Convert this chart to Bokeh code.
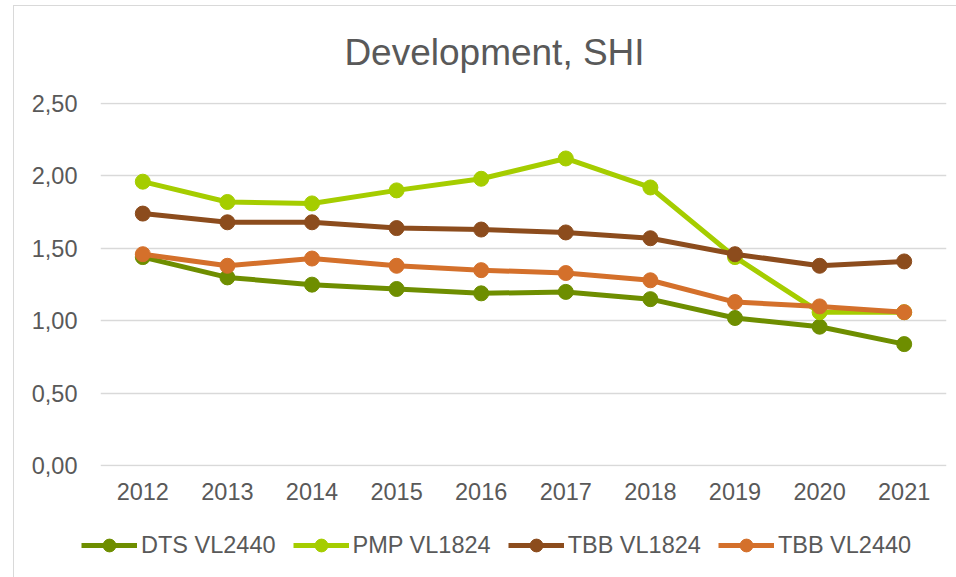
from bokeh.plotting import figure
from bokeh.layouts import column
from bokeh.models import (FactorRange, Range1d, FixedTicker, CustomJSTickFormatter,
                          Legend, LegendItem, Label)
from bokeh.embed import file_html
from bokeh.resources import INLINE

years = ["2012", "2013", "2014", "2015", "2016", "2017", "2018", "2019", "2020", "2021"]
dts_vl2440 = [1.44, 1.30, 1.25, 1.22, 1.19, 1.20, 1.15, 1.02, 0.96, 0.84]
pmp_vl1824 = [1.96, 1.82, 1.81, 1.90, 1.98, 2.12, 1.92, 1.44, 1.06, 1.06]
tbb_vl1824 = [1.74, 1.68, 1.68, 1.64, 1.63, 1.61, 1.57, 1.46, 1.38, 1.41]
tbb_vl2440 = [1.46, 1.38, 1.43, 1.38, 1.35, 1.33, 1.28, 1.13, 1.10, 1.06]
series_names = ["DTS VL2440", "PMP VL1824", "TBB VL1824", "TBB VL2440"]
y_ticks = [0, 0.5, 1.0, 1.5, 2.0, 2.5]
chart_title = "Development, SHI"

colors = ["#6E8E00", "#A5CD00", "#8C4C1D", "#D4702B"]
TXT = "#595959"
FONT = "Liberation Sans"
all_series = [dts_vl2440, pmp_vl1824, tbb_vl1824, tbb_vl2440]


def strip(height):
    f = figure(width=942, height=height, x_range=Range1d(0, 1), y_range=Range1d(0, 1),
               output_backend="svg", toolbar_location=None,
               x_axis_location=None, y_axis_location=None,
               min_border=0, min_border_left=0, min_border_right=0,
               min_border_top=0, min_border_bottom=0)
    f.frame_align = False
    f.grid.visible = False
    f.outline_line_color = None
    return f


# title strip
t = strip(80)
t.add_layout(Label(x=480, y=34, x_units="screen", y_units="screen", text=chart_title,
                   text_align="center", text_baseline="middle", text_font=FONT,
                   text_font_size="37px", text_color=TXT))

# main chart
p = figure(width=942, height=434, x_range=FactorRange(*years, range_padding=0),
           y_range=Range1d(-0.004, 2.506), output_backend="svg", toolbar_location=None,
           min_border_left=86, min_border_right=10, min_border_top=16, min_border_bottom=54)
p.frame_align = False
p.outline_line_color = None
p.xgrid.grid_line_color = None
p.ygrid.grid_line_color = "#D9D9D9"
p.ygrid.grid_line_width = 1.5

p.yaxis.ticker = FixedTicker(ticks=y_ticks)
p.yaxis.formatter = CustomJSTickFormatter(code="return tick.toFixed(2).replace('.', ',');")
for ax in (p.xaxis, p.yaxis):
    ax.axis_line_color = None
    ax.major_tick_line_color = None
    ax.minor_tick_line_color = None
    ax.major_label_text_font = FONT
    ax.major_label_text_font_size = "23.5px"
    ax.major_label_text_color = TXT
p.yaxis.major_label_standoff = 17
p.xaxis.major_label_standoff = 10

for vals, c in zip(all_series, colors):
    p.line(years, vals, line_color=c, line_width=5)
    p.scatter(years, vals, marker="circle", size=15, fill_color=c, line_color=c)

# legend strip (same series, drawn out of view; only the legend shows)
q = figure(width=942, height=57, x_range=FactorRange(*years, range_padding=0),
           y_range=Range1d(10, 11), output_backend="svg", toolbar_location=None,
           x_axis_location=None, y_axis_location=None,
           min_border=0, min_border_left=0, min_border_right=0,
           min_border_top=0, min_border_bottom=0)
q.frame_align = False
q.grid.visible = False
q.outline_line_color = None
items = []
for name, vals, c in zip(series_names, all_series, colors):
    lr = q.line(years, vals, line_color=c, line_width=5)
    sr = q.scatter(years, vals, marker="circle", size=15, fill_color=c, line_color=c)
    items.append(LegendItem(label=name, renderers=[lr, sr]))

legend = Legend(items=items, orientation="horizontal", location=(67, 16),
                glyph_width=56, glyph_height=32, label_standoff=4, spacing=17,
                padding=0, margin=0, border_line_alpha=0, background_fill_alpha=0,
                label_text_font=FONT, label_text_font_size="23.5px", label_text_color=TXT)
q.add_layout(legend, "center")

layout = column(t, p, q, spacing=0)
layout.styles = {"margin-left": "13px", "margin-top": "5px",
                 "border-top": "1px solid #D9D9D9", "border-left": "1px solid #D9D9D9"}

open("out.html", "w").write(file_html(layout, INLINE))
